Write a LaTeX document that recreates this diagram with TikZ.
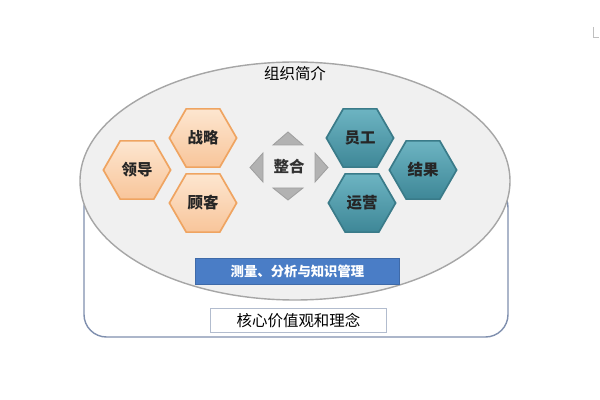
\documentclass[tikz,border=0pt]{standalone}
\usepackage{fontspec}
\usepackage{tikz}
\usetikzlibrary{shapes.geometric,positioning}
\newfontfamily\cjk{Noto Sans CJK SC}
\definecolor{HexOrgTop}{HTML}{FDE6D0}
\definecolor{HexOrgBot}{HTML}{F8C59A}
\definecolor{HexOrgLine}{HTML}{EFA461}
\definecolor{HexTealTop}{HTML}{6DB4C2}
\definecolor{HexTealBot}{HTML}{3E8797}
\definecolor{HexTealLine}{HTML}{3A7B89}
\definecolor{BarBlue}{HTML}{4A7DC6}
\definecolor{FrameLine}{HTML}{7F8FAE}

\begin{document}
\begin{tikzpicture}
    % 像素坐标: x 向右, y 向下
    [x=0.025cm,y=-0.025cm,
    OrgNode/.style={regular polygon,regular polygon sides=6,minimum size=1.68cm,inner sep=0pt,
        draw=HexOrgLine,line width=1.2pt,top color=HexOrgTop,bottom color=HexOrgBot,
        font=\cjk\bfseries\fontsize{11}{13}\selectfont,text=black!85},
    TealNode/.style={regular polygon,regular polygon sides=6,minimum size=1.68cm,inner sep=0pt,
        draw=HexTealLine,line width=1.2pt,top color=HexTealTop,bottom color=HexTealBot,
        font=\cjk\bfseries\fontsize{11}{13}\selectfont,text=black!85},
    TriShape/.style={fill=gray!60,draw=gray!75,line width=0.6pt}]

    \useasboundingbox (0,0) rectangle (600,400);

    % 外框和椭圆背景
    \draw[FrameLine,line width=1pt,rounded corners=16](84,185)rectangle(508,337);
    \filldraw[fill=gray!12,draw=gray!70,line width=1pt](295,181)ellipse[x radius=215,y radius=119];

    % 标题
    \node[font=\cjk\fontsize{11}{13}\selectfont] (title) at (295,74){组织简介};

    % 左侧六边形
    \node[OrgNode] (ld) at (137,170){领导};
    \node[OrgNode] (zl) at (203,138){战略};
    \node[OrgNode] (gk) at (203,203){顾客};

    % 右侧六边形
    \node[TealNode] (yg) at (360,138){员工};
    \node[TealNode] (jg) at (423,170){结果};
    \node[TealNode] (yy) at (362,203){运营};

    % 中间文字和四个三角形
    \node[font=\cjk\bfseries\fontsize{11}{13}\selectfont,text=black!80] (zh) at (289,167){整合};
    \filldraw[TriShape](273,145)--(303,145)--(288,132)--cycle;
    \filldraw[TriShape](273,188)--(303,188)--(288,200)--cycle;
    \filldraw[TriShape](263,153)--(263,182)--(250,167.5)--cycle;
    \filldraw[TriShape](315,153)--(315,182)--(328,167.5)--cycle;

    % 蓝色条和底部方框
    \node[fill=BarBlue,draw=BarBlue!85!black,minimum width=5.1cm,minimum height=0.66cm,
        font=\cjk\bfseries\fontsize{9.5}{11}\selectfont,text=white] (cl) at (297.5,271.5){测量、分析与知识管理};
    \node[fill=white,draw=FrameLine!60,line width=0.8pt,minimum width=4.4cm,minimum height=0.62cm,
        font=\cjk\fontsize{11}{13}\selectfont] (hx) at (298.5,320.5){核心价值观和理念};

    % 右上角小标记
    \draw[gray!50,line width=0.5pt](593,27)--(593,37)--(599,37);
\end{tikzpicture}
\end{document}
